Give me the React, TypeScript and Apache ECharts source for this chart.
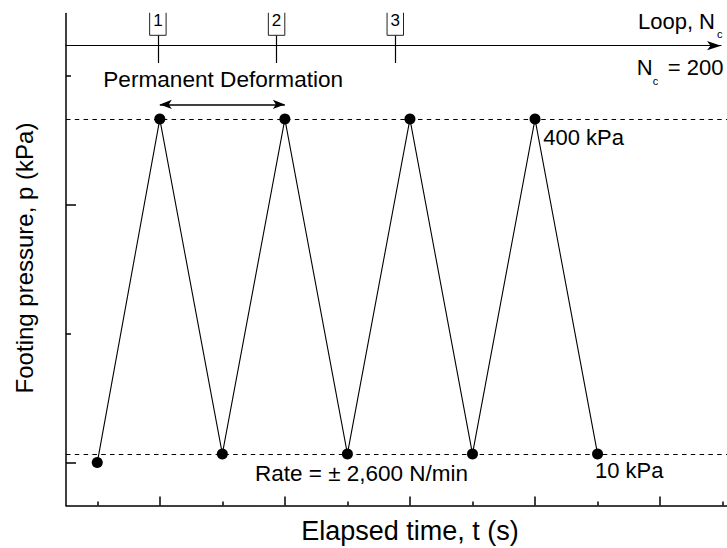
import React, { useEffect, useRef } from "react";
import * as echarts from "echarts";

// ---- data ----
const timeSteps = [0, 1, 2, 3, 4, 5, 6, 7, 8];
const pressures = [0, 400, 10, 400, 10, 400, 10, 400, 10];
const upperLevel = 400;
const lowerLevel = 10;
const deformationStart = [1, 417];
const deformationEnd = [3, 417];
const timeMajorTicks = [1, 3, 5, 7, 9];
const timeMinorTicks = [0, 2, 4, 6, 8, 10];
const pressureMajorTicks = [0, 300];
const pressureMinorTicks = [150, 450];
const loopTicks = [1, 2, 3];
const loopLabels = ["1", "2", "3"];

const FONT = "'Liberation Sans', Arial, Helvetica, sans-serif";
const BLACK = "#000";

export default function App() {
  const ref = useRef<HTMLDivElement>(null);
  useEffect(() => {
    if (!ref.current) return;
    const chart = echarts.init(ref.current, null, { renderer: "svg" });
    const tMin = -0.5;
    const tMax = 10.07;
    const pMin = -50;
    const pMax = 523.5;
    const loopMin = 0.226;
    const loopMax = 5.744;
    const text = (t: string, x: number, y: number, size: number, align = "left", extra: any = {}) => ({
      type: "text",
      x,
      y,
      z: 50,
      ...extra,
      style: {
        text: t,
        fontSize: size,
        fontFamily: FONT,
        fill: BLACK,
        align,
        verticalAlign: "middle",
      },
    });
    const arrowEnd = (coord: number[]) => ({ coord, symbol: "arrow", symbolSize: [7, 12] });
    const option: any = {
      animation: false,
      grid: [
        { left: 66, right: 0, top: 13, bottom: 42.5, outerBoundsMode: "none", containLabel: false },
        { left: 66, right: 6, top: 45.7, height: 20, outerBoundsMode: "none", containLabel: false },
      ],
      xAxis: [
        {
          type: "value", gridIndex: 0, min: tMin, max: tMax, position: "bottom",
          axisLine: { show: true, onZero: false, lineStyle: { color: BLACK, width: 1.5 } },
          axisTick: { show: true, inside: true, length: 9, customValues: timeMajorTicks, lineStyle: { color: BLACK, width: 1.5 } },
          axisLabel: { show: false }, splitLine: { show: false },
        },
        {
          type: "value", gridIndex: 0, min: tMin, max: tMax, position: "bottom",
          axisLine: { show: false, onZero: false },
          axisTick: { show: true, inside: true, length: 4, customValues: timeMinorTicks, lineStyle: { color: BLACK, width: 1.5 } },
          axisLabel: { show: false }, splitLine: { show: false },
        },
        {
          type: "value", gridIndex: 1, min: loopMin, max: loopMax, position: "top",
          axisLine: { show: true, onZero: false, symbol: ["none", "arrow"], symbolSize: [7, 14], lineStyle: { color: BLACK, width: 1.2 } },
          axisTick: { show: true, inside: false, length: 10.4, customValues: loopTicks, lineStyle: { color: BLACK, width: 1.2 } },
          axisLabel: {
            show: true, customValues: loopTicks, margin: 10.4,
            formatter: (v: number) => loopLabels[loopTicks.indexOf(v)] ?? "",
            fontSize: 17, fontFamily: FONT, color: BLACK,
            borderColor: "#222", borderWidth: 1, padding: [30, 3.5, 6, 3.5],
          },
          splitLine: { show: false },
        },
        {
          type: "value", gridIndex: 1, min: loopMin, max: loopMax, position: "top",
          axisLine: { show: false, onZero: false },
          axisTick: { show: true, inside: true, length: 17.3, customValues: loopTicks, lineStyle: { color: BLACK, width: 1.2 } },
          axisLabel: { show: false }, splitLine: { show: false },
        },
      ],
      yAxis: [
        {
          type: "value", gridIndex: 0, min: pMin, max: pMax, position: "left",
          axisLine: { show: true, onZero: false, lineStyle: { color: BLACK, width: 1.5 } },
          axisTick: { show: true, inside: true, length: 10, customValues: pressureMajorTicks, lineStyle: { color: BLACK, width: 1.5 } },
          axisLabel: { show: false }, splitLine: { show: false },
        },
        {
          type: "value", gridIndex: 0, min: pMin, max: pMax, position: "left",
          axisLine: { show: false, onZero: false },
          axisTick: { show: true, inside: true, length: 5, customValues: pressureMinorTicks, lineStyle: { color: BLACK, width: 1.5 } },
          axisLabel: { show: false }, splitLine: { show: false },
        },
        { type: "value", gridIndex: 1, show: false, min: 0, max: 1 },
      ],
      series: [
        {
          type: "line",
          xAxisIndex: 0,
          yAxisIndex: 0,
          data: timeSteps.map((t, i) => [t, pressures[i]]),
          symbol: "circle",
          symbolSize: 11,
          itemStyle: { color: BLACK },
          lineStyle: { color: BLACK, width: 1.1 },
          z: 5,
          markLine: {
            silent: true,
            symbol: "none",
            label: { show: false },
            lineStyle: { color: BLACK, width: 1, type: [4.5, 4.3] },
            data: [{ yAxis: upperLevel }, { yAxis: lowerLevel }],
          },
        },
        {
          type: "line",
          xAxisIndex: 0,
          yAxisIndex: 0,
          data: [],
          markLine: {
            silent: true,
            symbol: ["arrow", "arrow"],
            symbolSize: 12,
            label: { show: false },
            itemStyle: { color: BLACK },
            lineStyle: { color: BLACK, width: 1.5, type: "solid" },
            data: [[arrowEnd(deformationStart), arrowEnd(deformationEnd)]],
          },
        },
      ],
      graphic: [
        { type: "rect", z: 100, shape: { x: 0, y: 0, width: 727, height: 12.7 }, style: { fill: "#fff" } },
        text("Loop, N", 715, 21.7, 22, "right"),
        text("c", 717, 33.5, 11),
        text("N", 636.7, 67.5, 22),
        text("c", 652.7, 80.5, 11),
        text("= 200", 723.5, 67.5, 22, "right"),
        text("Permanent Deformation", 103.3, 79.5, 22.6),
        text("400 kPa", 543.3, 137, 22),
        text("10 kPa", 595, 470.8, 22),
        text("Rate = \u00b1 2,600 N/min", 255, 473.9, 22.5),
        text("Elapsed time, t (s)", 410, 530.9, 27, "center"),
        text("Footing pressure, p (kPa)", 24, 258, 24, "center", { rotation: Math.PI / 2 }),
      ],
    };
    chart.setOption(option);
    return () => chart.dispose();
  }, []);
  return (
    <div
      ref={ref}
      style={{ position: "absolute", left: 0, top: 0, width: 727, height: 548, background: "#fff" }}
    />
  );
}
